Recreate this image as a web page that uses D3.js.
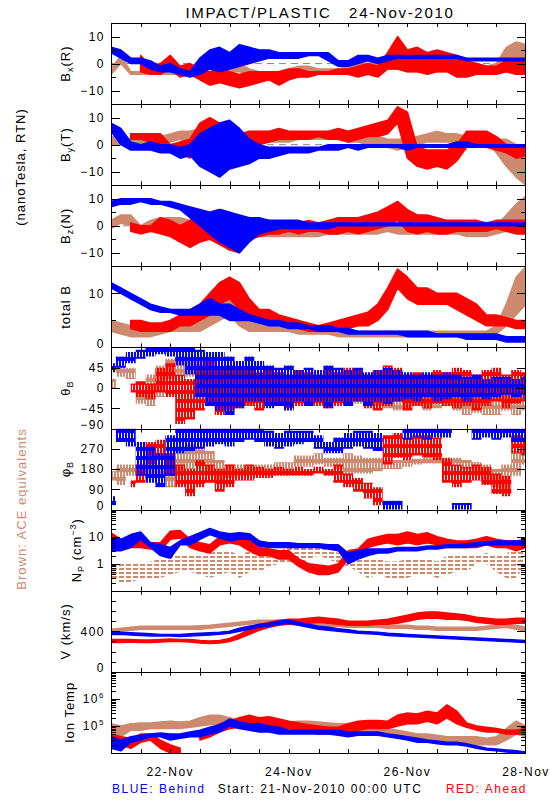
<!DOCTYPE html>
<html><head><meta charset="utf-8">
<script src="https://cdn.jsdelivr.net/npm/d3@7"></script>
<style>
body{margin:0;background:#fff}
svg{display:block}
text{font-family:"Liberation Sans",Arial,sans-serif;fill:#000;white-space:pre}
</style>
</head><body><svg id="c" width="550" height="800"></svg>
<script>
// ---- sample times (hours since 21-Nov-2010 00:00 UTC) ----
const times = [0,4,8,12,16,20,24,28,32,36,40,44,48,52,56,60,64,68,72,76,80,84,88,92,96,100,104,108,112,116,120,124,128,132,136,140,144,148,152,156,160,164,168];
const xTickHours = [12,24,36,48,60,72,84,96,108,120,132,144,156];
const xLabelHours = [24,72,120,168];
const xLabels = ["22-Nov","24-Nov","26-Nov","28-Nov"];

// ---- each series: [low, high] spread of the measured values per 4-hour sample ----
const bxBlue = [[4,6],[2,5],[0,2],[0,2],[-2,1],[-3,-1],[-3,0],[-4,-2],[-5,-3],[-4,2],[-2,5],[-3,6],[-2,4],[-1,7],[0,6],[1,5],[2,5],[2,4],[2,4],[2,4],[3,4],[3,4],[1,4],[-1,1],[-1,1],[0,3],[1,3],[0,2],[1,3],[2,3],[2,3],[2,3],[2,3],[2,3],[2,3],[2,3],[1,2],[1,2],[1,2],[1,2],[1,2],[1,2],[1,2]];
const bxRed = [null,null,null,[-3,3],[-4,-1],[-4,0],[-2,3],[-5,-1],[-4,0],[-6,-2],[-8,-3],[-7,-2],[-8,-3],[-9,-4],[-8,-3],[-7,-3],[-6,-3],[-8,-3],[-6,-2],[-5,-2],[-5,-3],[-4,-3],[-4,-3],[-4,-2],[-4,-2],[-5,-1],[-4,0],[-5,-1],[-2,4],[-2,10],[-3,5],[-3,6],[-4,4],[-3,5],[-3,4],[-5,3],[-5,1],[-4,0],[-4,-1],[-4,-1],[-3,1],[-4,1],[-4,2]];
const bxBrown = [[-4,-2],[0,3],[-4,-3],[-4,-3],[-4,-3],[-4,-3],[-4,-3],[-4,-2],[-4,-2],[-2,2],[-2,3],[-3,1],[-3,2],[-3,0],[-4,-2],[-4,-3],[-4,-3],[-4,-3],[-4,-2],[-3,-1],[-3,-1],[-3,-2],[-3,-2],[-3,-2],[-3,-1],[-2,0],[-2,0],[-1,1],[-2,1],[-2,0],[-3,-1],[-3,-1],[-3,-1],[-3,-1],[-3,0],[-3,-1],[-2,0],[-2,0],[-3,-1],[-2,0],[0,6],[0,8],[0,7]];

const byBlue = [[5,8],[0,6],[-2,1],[-2,0],[-2,1],[-3,0],[-3,0],[-5,-1],[-4,0],[-8,4],[-10,6],[-12,8],[-9,9],[-8,6],[-7,2],[-5,0],[-5,-1],[-4,-1],[-3,-1],[-3,-1],[-3,-1],[-2,-1],[-2,0],[-2,0],[-1,0],[-2,0],[-1,0],[-1,0],[-1,0],[-1,0],[-2,0],[-1,0],[-1,0],[-1,0],[-1,0],[-1,1],[-1,1],[-1,0],[-1,0],[-1,0],[-1,0],[-1,0],[-1,0]];
const byRed = [null,null,[2,4],[2,4],[1,4],[0,4],[-3,0],[-3,1],[-5,2],[2,8],[-2,10],[-6,8],[-4,6],[-8,4],[-3,5],[0,5],[1,5],[2,6],[2,5],[2,5],[2,5],[3,5],[2,5],[2,6],[1,5],[2,6],[3,7],[3,8],[4,9],[8,14],[-5,12],[-8,-1],[-9,-2],[-8,-2],[-9,-2],[-6,0],[-1,5],[0,5],[-1,5],[-2,3],[-3,0],[-5,-1],[-4,0]];
const byBrown = [[0,3],[0,3],[0,2],[0,3],[1,3],[0,3],[1,4],[2,5],[0,5],[-4,6],[-3,8],[-2,5],[0,5],[0,4],[1,4],[1,4],[1,4],[1,4],[1,4],[2,4],[2,4],[2,4],[2,5],[2,4],[1,4],[1,4],[0,3],[0,3],[-1,2],[-2,2],[-1,2],[0,3],[1,4],[1,5],[1,4],[1,4],[0,3],[1,4],[1,4],[-3,2],[-8,2],[-12,0],[-15,-5]];

const bzBlue = [[7,9],[8,10],[8,10],[9,10],[8,10],[8,9],[7,9],[6,8],[3,7],[0,6],[-3,5],[-6,6],[-8,5],[-10,4],[-6,3],[-3,3],[-2,2],[-1,2],[-1,2],[-1,2],[-1,1],[-1,1],[-1,1],[0,1],[0,1],[0,1],[0,1],[0,1],[0,1],[0,1],[0,1],[0,1],[0,1],[0,1],[0,1],[0,1],[0,1],[0,1],[0,1],[0,1],[0,1],[0,1],[0,1]];
const bzRed = [null,null,[-2,1],[-3,0],[-2,0],[-3,3],[-4,2],[-6,0],[-8,2],[-6,4],[-5,5],[-7,6],[-9,5],[-10,3],[-5,3],[-4,2],[-3,2],[-3,1],[-2,2],[-3,1],[-2,2],[-2,1],[-3,2],[-3,3],[-2,3],[-3,3],[-2,4],[-1,5],[0,7],[2,9],[-2,6],[-3,4],[-2,4],[-3,3],[-3,2],[-2,2],[-2,2],[-2,2],[-2,1],[-1,2],[-2,2],[-3,2],[-3,2]];
const bzBrown = [[-1,2],[1,4],[0,4],[-3,0],[-2,2],[0,3],[-1,3],[-2,3],[-3,2],[-3,5],[-5,4],[-4,3],[-3,2],[-3,1],[-3,0],[-4,-1],[-4,-2],[-4,-2],[-4,-2],[-4,-2],[-4,-2],[-4,-2],[-3,-1],[-3,-1],[-3,-1],[-3,-1],[-3,0],[-3,0],[-2,0],[-3,0],[-3,-1],[-3,-1],[-3,0],[-3,-1],[-3,-1],[-3,-1],[-4,-1],[-4,-2],[-4,-2],[-3,0],[-2,4],[0,8],[2,11]];

const btBlue = [[11,12],[10,11],[9,10],[8,9],[7,8],[6.5,7.5],[6.5,7],[6,7],[6,7],[6,8],[6,9],[6,8],[5,8],[5,7],[5,6],[4.5,5.5],[4,5],[4,5],[3.5,4.5],[3.5,4.5],[3.5,4],[3,4],[3,4],[3,3.5],[2.5,3.5],[2.5,3],[2.5,3],[2.5,3],[2.5,3],[2.5,3],[2,3],[2,3],[2,3],[2,2.5],[2,2.5],[2,2.5],[1.5,2.5],[1.5,2.5],[1.5,2.5],[1.5,2.5],[1,2],[1,2],[1,2]];
const btRed = [null,null,[3.5,5],[3,5],[3,4.5],[3,4.5],[3,5],[4,6],[4,7],[5,8],[6,10],[8,12],[9,13],[7,12],[6,9],[5,7],[5,7],[4.5,6],[4,5.5],[3.5,5],[3,4.5],[3,4],[3,4.5],[3,5],[3.5,5.5],[4,6],[4,6.5],[5,8],[7,11],[11,14.5],[9,13],[8,11],[8,11],[8,10],[8,10],[7,10],[6,9],[5,8],[4,6],[4,6],[4,5.5],[3.5,5],[3.5,5]];
const btBrown = [[3,5],[2.5,4.5],[2,4],[2,4],[2,4],[2.5,4],[3,5],[3,5],[3,5],[3,7],[4,9],[5,10],[6,12],[4,9],[3,7],[3,5],[3,5],[3,4.5],[3,4.5],[2.5,4],[2.5,4],[2.5,3.5],[2.5,3.5],[2,3],[2,3],[2,3],[2,3],[2,3],[2,3],[2,3],[2,3],[2,3],[2,3],[2,3],[2,3],[2,3],[2,3],[2,3],[2,3],[2.5,4],[4,8],[6,13],[8,15]];

const thBlue = [[35,55],[45,70],[55,80],[65,85],[70,90],[75,90],[70,90],[50,90],[30,90],[-20,85],[-40,80],[-50,80],[-60,70],[-45,60],[-30,70],[-30,60],[-45,50],[-40,45],[-50,50],[-30,40],[-40,45],[-30,40],[-45,50],[-30,45],[-40,40],[-30,45],[-40,35],[-30,40],[-35,45],[-30,40],[-25,35],[-30,30],[-20,35],[-30,30],[-25,35],[-20,30],[-30,25],[-20,30],[-25,20],[-20,25],[-15,25],[-20,20],[-15,25]];
const thRed = [null,null,[-10,10],[-20,15],[-25,10],[-10,45],[-20,55],[-80,30],[-70,20],[-50,50],[-40,60],[-60,40],[-50,50],[-45,40],[-40,40],[-50,35],[-40,40],[-35,35],[-45,30],[-40,40],[-35,35],[-40,30],[-45,40],[-40,35],[-35,45],[-30,40],[-45,30],[-50,40],[-40,50],[-30,45],[-50,30],[-40,35],[-45,30],[-35,40],[-40,35],[-45,45],[-40,40],[-50,30],[-40,40],[-30,45],[-45,30],[-35,40],[-30,35]];
const thBrown = [[0,20],[25,50],[20,45],[-35,-15],[-40,30],[-20,50],[20,65],[30,70],[25,60],[0,60],[-30,50],[-45,40],[-40,30],[-30,30],[-40,20],[-30,25],[-40,20],[-35,25],[-30,20],[-30,25],[-25,20],[-30,20],[-30,25],[-25,20],[-30,20],[-35,20],[-30,15],[-40,20],[-45,15],[-50,20],[-45,15],[-40,20],[-50,15],[-45,20],[-40,25],[-50,10],[-60,20],[-55,15],[-60,20],[-60,10],[-50,20],[-60,10],[-50,15]];

const phBlue = [[20,60],[300,360],[280,360],[150,300],[120,280],[100,250],[150,330],[250,360],[260,360],[270,360],[280,360],[290,360],[280,360],[300,360],[310,360],[300,360],[280,350],[270,340],[280,350],[290,350],[300,350],[270,330],[250,300],[250,320],[270,340],[280,350],[270,350],[260,340],[0,40],[0,40],[310,360],[320,360],[310,360],[320,360],[320,360],[0,30],[0,30],[310,360],[320,360],[310,360],[320,360],[300,360],[300,360]];
const phRed = [null,null,[100,130],[120,200],[200,300],[220,310],[150,250],[100,200],[60,180],[100,220],[120,200],[80,180],[100,200],[130,180],[130,200],[140,190],[140,180],[150,190],[150,180],[150,190],[150,180],[160,190],[150,180],[120,200],[100,160],[80,140],[50,120],[20,100],[200,330],[230,340],[220,320],[240,330],[230,330],[220,320],[120,230],[100,200],[120,190],[130,200],[110,190],[70,160],[60,150],[250,330],[240,320]];
const phBrown = [[130,170],[110,200],[150,200],[150,200],[140,190],[150,190],[100,250],[150,280],[180,290],[200,280],[150,260],[130,220],[140,200],[150,200],[150,190],[160,200],[150,200],[160,210],[170,210],[190,240],[190,240],[200,250],[190,230],[180,230],[150,250],[160,240],[160,230],[170,230],[180,220],[180,220],[190,220],[200,225],[205,230],[205,230],[200,225],[200,230],[180,220],[150,210],[120,200],[100,180],[70,200],[150,260],[200,280]];

const npBlue = [[3,9],[3,8],[4,12],[8,15],[4,6],[2,5],[1.6,4],[5,7],[5,10],[8,14],[12,20],[9,15],[7,13],[8,14],[8,13],[4.5,7],[4,6],[4,6],[4,6],[4,5.5],[4,5.5],[4,5.5],[3.5,5],[3,5],[1,2.5],[1.5,3],[2,3.5],[2.5,3.5],[2.5,3.5],[3,4],[3,4],[3,4],[3.5,4.5],[3.5,4.5],[4,5],[4,5],[4,5.5],[4.5,6],[5,6.5],[5,7],[5,7],[5,7],[5,7]];
const npRed = [[6,14],[4,8],[4,7],[4,7],[3.5,6],[3,6],[8,16],[9,17],[4,8],[3,6],[2.5,5],[5,10],[6,11],[5,10],[3,8],[2,4],[2,3.5],[1.5,3],[1.5,3],[0.8,1.5],[0.5,1],[0.4,0.9],[0.4,0.8],[0.5,1],[1.5,3],[2,3.5],[4,8],[5,10],[6,12],[5,12],[6,15],[5,12],[6,14],[5,10],[4,8],[4,7],[4,7],[4,8],[5,10],[4,8],[4,7],[3,7],[4,8]];
const npBrown = [[0.3,1.2],[0.2,1],[0.2,1],[0.3,1],[0.3,1.2],[0.3,1.5],[0.4,2],[0.5,2],[0.5,2],[0.4,2],[0.3,2.5],[0.4,3],[0.5,3],[0.3,2],[0.5,3],[0.5,2.5],[0.8,3],[1,3],[1,4],[1,4],[1.5,4],[2,5],[1.5,4],[1,2.5],[0.8,2],[0.5,1.5],[0.3,1.5],[0.4,1.5],[0.3,1.2],[0.3,1.2],[0.3,1.5],[0.4,1.5],[0.4,1.5],[0.3,1.2],[0.4,2],[0.5,2],[0.5,2],[1,2],[1,2.5],[0.5,2],[0.3,2],[0.3,10],[1,3]];

const vBlue = [[370,390],[370,390],[365,385],[360,380],[355,375],[355,370],[355,370],[350,370],[355,375],[360,380],[365,385],[370,390],[380,400],[400,430],[420,450],[440,470],[450,480],[470,500],[480,510],[460,490],[440,470],[420,450],[410,440],[400,425],[390,415],[380,400],[375,395],[370,390],[360,380],[355,375],[350,370],[345,365],[340,360],[335,355],[330,350],[325,345],[320,340],[315,335],[310,330],[305,325],[300,320],[295,315],[290,310]];
const vRed = [[290,320],[290,320],[295,320],[290,315],[290,315],[295,320],[300,325],[300,320],[295,320],[285,310],[280,305],[285,310],[300,330],[330,370],[370,420],[410,460],[440,490],[460,510],[470,520],[480,520],[480,530],[490,540],[480,530],[470,520],[460,500],[460,500],[460,500],[470,510],[470,520],[480,540],[500,560],[520,580],[530,590],[530,590],[520,580],[520,570],[510,560],[490,540],[480,530],[470,520],[470,520],[480,530],[480,530]];
const vBrown = [[390,420],[400,430],[410,440],[420,450],[420,450],[420,450],[420,450],[420,450],[420,450],[420,455],[430,460],[440,470],[450,480],[460,490],[470,500],[480,510],[480,510],[480,510],[470,500],[460,490],[460,490],[450,480],[450,480],[450,480],[440,470],[440,470],[440,470],[440,470],[430,460],[430,460],[430,460],[420,450],[420,450],[410,440],[410,440],[410,440],[410,440],[410,440],[420,450],[430,460],[440,470],[420,460],[400,440]];

const tBlue = [[1.5e4,4e4],[1.2e4,3e4],[2.5e4,4e4],[3e4,4.5e4],[4e4,5e4],[4e4,5.5e4],[3e4,5e4],[3.5e4,5e4],[4e4,6e4],[4e4,7e4],[5e4,9e4],[6e4,1.1e5],[1e5,1.8e5],[8e4,1.4e5],[7e4,1.2e5],[6e4,1.2e5],[6e4,1e5],[5e4,9e4],[5e4,7e4],[5e4,7e4],[5e4,7e4],[5e4,7e4],[5e4,7e4],[4.5e4,7e4],[4e4,6e4],[4.5e4,6e4],[4.5e4,6e4],[4.5e4,6e4],[4e4,5e4],[3.5e4,4.5e4],[3e4,4e4],[2.5e4,3.5e4],[2.5e4,3e4],[2.2e4,2.8e4],[2e4,2.5e4],[2e4,2.5e4],[1.8e4,2.2e4],[1.5e4,1.8e4],[1.3e4,1.5e4],[1.2e4,1.4e4],[1.1e4,1.3e4],[1e4,1.2e4],[1e4,1.1e4]];
const tRed = [[2e4,5e4],[2e4,4e4],[1.5e4,3.5e4],[2.5e4,5e4],[3e4,5e4],[1.5e4,3e4],[1e4,2e4],[1e4,1.5e4],null,[3e4,6e4],[4e4,8e4],[6e4,1.2e5],[8e4,1.5e5],[9e4,2e5],[1e5,2.5e5],[1e5,2e5],[9e4,2.2e5],[8e4,1.8e5],[8e4,1.5e5],[7e4,1.3e5],[6e4,1.1e5],[5e4,1e5],[5e4,9e4],[5e4,9e4],[6e4,1.2e5],[7e4,1.5e5],[8e4,1.6e5],[8e4,1.6e5],[8e4,1.5e5],[1e5,2.5e5],[1.2e5,3e5],[1.2e5,2.8e5],[1.5e5,3.5e5],[1.2e5,3e5],[2e5,6e5],[1.2e5,3.5e5],[9e4,1.3e5],[7e4,1e5],[6e4,9e4],[6e4,8e4],[5e4,7e4],[5e4,7e4],[5e4,8e4]];
const tBrown = [[5e4,1.2e5],[4e4,1e5],[7e4,1.2e5],[7e4,1.3e5],[8e4,1.3e5],[8e4,1.4e5],[8e4,1.5e5],[8e4,1.4e5],[9e4,1.5e5],[1e5,2e5],[1.1e5,2.5e5],[1.2e5,2.5e5],[1e5,2e5],[8e4,1.6e5],[8e4,1.5e5],[7e4,1.4e5],[7e4,1.3e5],[7e4,1.3e5],[8e4,1.4e5],[8e4,1.5e5],[8e4,1.5e5],[8e4,1.4e5],[7e4,1.3e5],[7e4,1.2e5],[7e4,1.2e5],[6e4,1.1e5],[6e4,1e5],[5e4,9e4],[5e4,8e4],[4e4,7e4],[3.5e4,6e4],[3e4,5e4],[3e4,5e4],[2.5e4,4.5e4],[2.5e4,4e4],[2.5e4,4e4],[2.5e4,4e4],[2e4,4e4],[2e4,3.5e4],[2e4,4e4],[3e4,8e4],[5e4,1.5e5],[4e4,1e5]];

// ---- axis ticks and labels ----
const bTicks = [-10,0,10], bMinor = [-5,5], bLabels = ["\u221210","0","10"];
const totTicks = [0,10], totMinor = [5], totLabels = ["0","10"];
const thTicks = [-90,-45,0,45], thLabels = ["\u221290","\u221245","0","45"];
const phTicks = [0,90,180,270], phLabels = ["0","90","180","270"];
const npTicks = [1,10], npLabels = ["1","10"];
const vTicks = [0,400], vMinor = [100,200,300,500,600,700], vLabels = ["0","400"];
const tTicks = [1e5,1e6], tExp = ["5","6"];

const COL = {brown:"#cd8a6e", red:"#ff0000", blue:"#0000ff"};
const svg = d3.select("#c");
const L = 111, R = 526, TOP = 23, BOT = 753, NP = 9, PH = (BOT - TOP) / NP;
const x = d3.scaleLinear().domain([0,168]).range([L,R]);

// texture patterns that mimic dense, noisy point clouds
const defs = svg.append("defs");
const texOff = {brown:0, red:1, blue:2};
Object.entries(COL).forEach(([k,c])=>{
  const pv = defs.append("pattern").attr("id","pv-"+k).attr("patternUnits","userSpaceOnUse")
    .attr("width",3).attr("height",9).attr("patternTransform",`translate(${texOff[k]},${texOff[k]*3})`);
  pv.append("rect").attr("x",0).attr("y",0).attr("width",2).attr("height",9).attr("fill",c);
  pv.append("rect").attr("x",2).attr("y",0).attr("width",1).attr("height",4).attr("fill",c);
  const ph = defs.append("pattern").attr("id","ph-"+k).attr("patternUnits","userSpaceOnUse").attr("width",7).attr("height",4);
  ph.append("rect").attr("x",0).attr("y",0).attr("width",5).attr("height",2).attr("fill",c);
});

function logMinor(lo, hi){ const a=[]; for(let d=lo; d<hi; d*=10) for(let m=2;m<10;m++) a.push(d*m); return a; }

const panels = [
 {s:[bxBrown,bxRed,bxBlue], dom:[-15,15], ticks:bTicks, minor:bMinor, labels:bLabels, zero:true, lab:[["B"],["x","sub"],["(R)"]]},
 {s:[byBrown,byRed,byBlue], dom:[-15,15], ticks:bTicks, minor:bMinor, labels:bLabels, zero:true, lab:[["B"],["y","sub"],["(T)"]]},
 {s:[bzBrown,bzRed,bzBlue], dom:[-15,15], ticks:bTicks, minor:bMinor, labels:bLabels, zero:true, lab:[["B"],["z","sub"],["(N)"]]},
 {s:[btBrown,btRed,btBlue], dom:[0,15], ticks:totTicks, minor:totMinor, labels:totLabels, lab:[["total B"]]},
 {s:[thBrown,thRed,thBlue], dom:[-90,90], ticks:thTicks, minor:[], labels:thLabels, step:true, tex:"pv", lab:[["\u03b8"],["B","sub"]]},
 {s:[phBrown,phRed,phBlue], dom:[0,360], ticks:phTicks, minor:[], labels:phLabels, step:true, tex:"pv", lab:[["\u03c6"],["B","sub"]]},
 {s:[npBrown,npRed,npBlue], dom:[0.1,100], log:true, ticks:npTicks, minor:logMinor(0.1,100), labels:npLabels, brownTex:"ph", lab:[["N"],["P","sub"],[" (cm"],["\u22123","sup"],[")"]], lx:81},
 {s:[vBrown,vRed,vBlue], dom:[0,800], ticks:vTicks, minor:vMinor, labels:vLabels, lab:[["V (km/s)"]]},
 {s:[tBrown,tRed,tBlue], dom:[1e4,1e7], log:true, ticks:tTicks, minor:logMinor(1e4,1e7), sup:tExp, lab:[["Ion Temp"]], lx:74}
];
const keys = ["brown","red","blue"];

function rotLabel(xb, yc, parts, fill, size){
  const t = svg.append("text").attr("transform",`translate(${xb},${yc}) rotate(-90)`)
    .attr("text-anchor","middle").style("font-size",(size||13)+"px").style("letter-spacing","1px");
  if (fill) t.style("fill", fill);
  let shift = 0;
  parts.forEach(p=>{
    const ts = t.append("tspan").text(p[0]);
    let d = 0;
    if (p[1]==="sub"){ ts.style("font-size","9px"); d = 3; }
    else if (p[1]==="sup"){ ts.style("font-size","9px"); d = -5; }
    ts.attr("dy", d - shift); shift = d;
  });
  return t;
}

panels.forEach((p,k)=>{
  const top = TOP + k*PH, bot = top + PH;
  const y = (p.log ? d3.scaleLog() : d3.scaleLinear()).domain(p.dom).range([bot, top]);
  const cid = "clip"+k;
  svg.append("clipPath").attr("id",cid).append("rect").attr("x",L).attr("y",top).attr("width",R-L).attr("height",PH);
  const g = svg.append("g").attr("clip-path",`url(#${cid})`);
  if (p.zero) g.append("line").attr("x1",L).attr("x2",R).attr("y1",y(0)).attr("y2",y(0))
      .attr("stroke","#888").attr("stroke-dasharray","7,5");
  p.s.forEach((ser,j)=>{
    const key = keys[j], col = COL[key];
    const data = times.map((h,i)=>({h, v: ser[i] == null ? null : ser[i]}));
    const area = d3.area().defined(d=>d.v!=null).x(d=>x(d.h)).y0(d=>y(d.v[0])).y1(d=>y(d.v[1]))
      .curve(p.step ? d3.curveStep : d3.curveLinear);
    const path = g.append("path").attr("d",area(data));
    if (p.tex) path.attr("fill",`url(#${p.tex}-${key})`);
    else if (p.brownTex && key==="brown") path.attr("fill",`url(#${p.brownTex}-${key})`);
    else path.attr("fill",col).attr("stroke",col).attr("stroke-width",1.5).attr("stroke-linejoin","round");
  });
  svg.append("rect").attr("x",L+0.5).attr("y",Math.round(top)+0.5).attr("width",R-L-1).attr("height",Math.round(bot)-Math.round(top))
    .attr("fill","none").attr("stroke","#000").attr("stroke-width",1);
  const ax = svg.append("g").attr("stroke","#000").attr("stroke-width",1);
  xTickHours.forEach(h=>{
    const xx = Math.round(x(h))+0.5;
    ax.append("line").attr("x1",xx).attr("x2",xx).attr("y1",top).attr("y2",top+4);
    ax.append("line").attr("x1",xx).attr("x2",xx).attr("y1",bot).attr("y2",bot-4);
  });
  const ytick = (v,len)=>{
    const yy = Math.round(y(v))+0.5;
    if (y(v) <= top+0.5 || y(v) >= bot-0.5) return;
    ax.append("line").attr("x1",L).attr("x2",L+len).attr("y1",yy).attr("y2",yy);
    ax.append("line").attr("x1",R).attr("x2",R-len).attr("y1",yy).attr("y2",yy);
  };
  p.ticks.forEach(v=>ytick(v,9));
  p.minor.forEach(v=>ytick(v,5));
  p.ticks.forEach((v,i)=>{
    let yy = y(v);
    if (yy > bot - 3) yy = bot - 4;
    const t = svg.append("text").attr("x",105).attr("y",yy).attr("dy","0.36em").attr("text-anchor","end")
      .style("font-size","12px").style("letter-spacing","1.5px");
    if (p.sup){ t.append("tspan").text("10"); t.append("tspan").attr("dy",-5).style("font-size","8px").text(p.sup[i]); }
    else t.text(p.labels[i]);
  });
  rotLabel(p.lx || 70, top + PH/2, p.lab);
});

xLabelHours.forEach((h,i)=>{
  svg.append("text").attr("x",x(h)).attr("y",776).attr("text-anchor","middle")
    .style("font-size","12px").style("letter-spacing","1.5px").text(xLabels[i]);
});

svg.append("text").attr("x",320).attr("y",18).attr("text-anchor","middle").style("font-size","15px")
  .style("letter-spacing","1.7px").text("IMPACT/PLASTIC   24-Nov-2010");
rotLabel(25, 167, [["(nanoTesla, RTN)"]]);
rotLabel(26, 509, [["Brown: ACE equivalents"]], COL.brown);
svg.append("text").attr("x",112).attr("y",793).style("font-size","12px").style("letter-spacing","1.5px")
  .style("fill",COL.blue).text("BLUE: Behind");
svg.append("text").attr("x",320).attr("y",793).attr("text-anchor","middle").style("font-size","12px")
  .style("letter-spacing","1.5px").text("Start: 21-Nov-2010 00:00 UTC");
svg.append("text").attr("x",527).attr("y",793).attr("text-anchor","end").style("font-size","12px")
  .style("letter-spacing","1.5px").style("fill",COL.red).text("RED: Ahead");
</script>
</body></html>
